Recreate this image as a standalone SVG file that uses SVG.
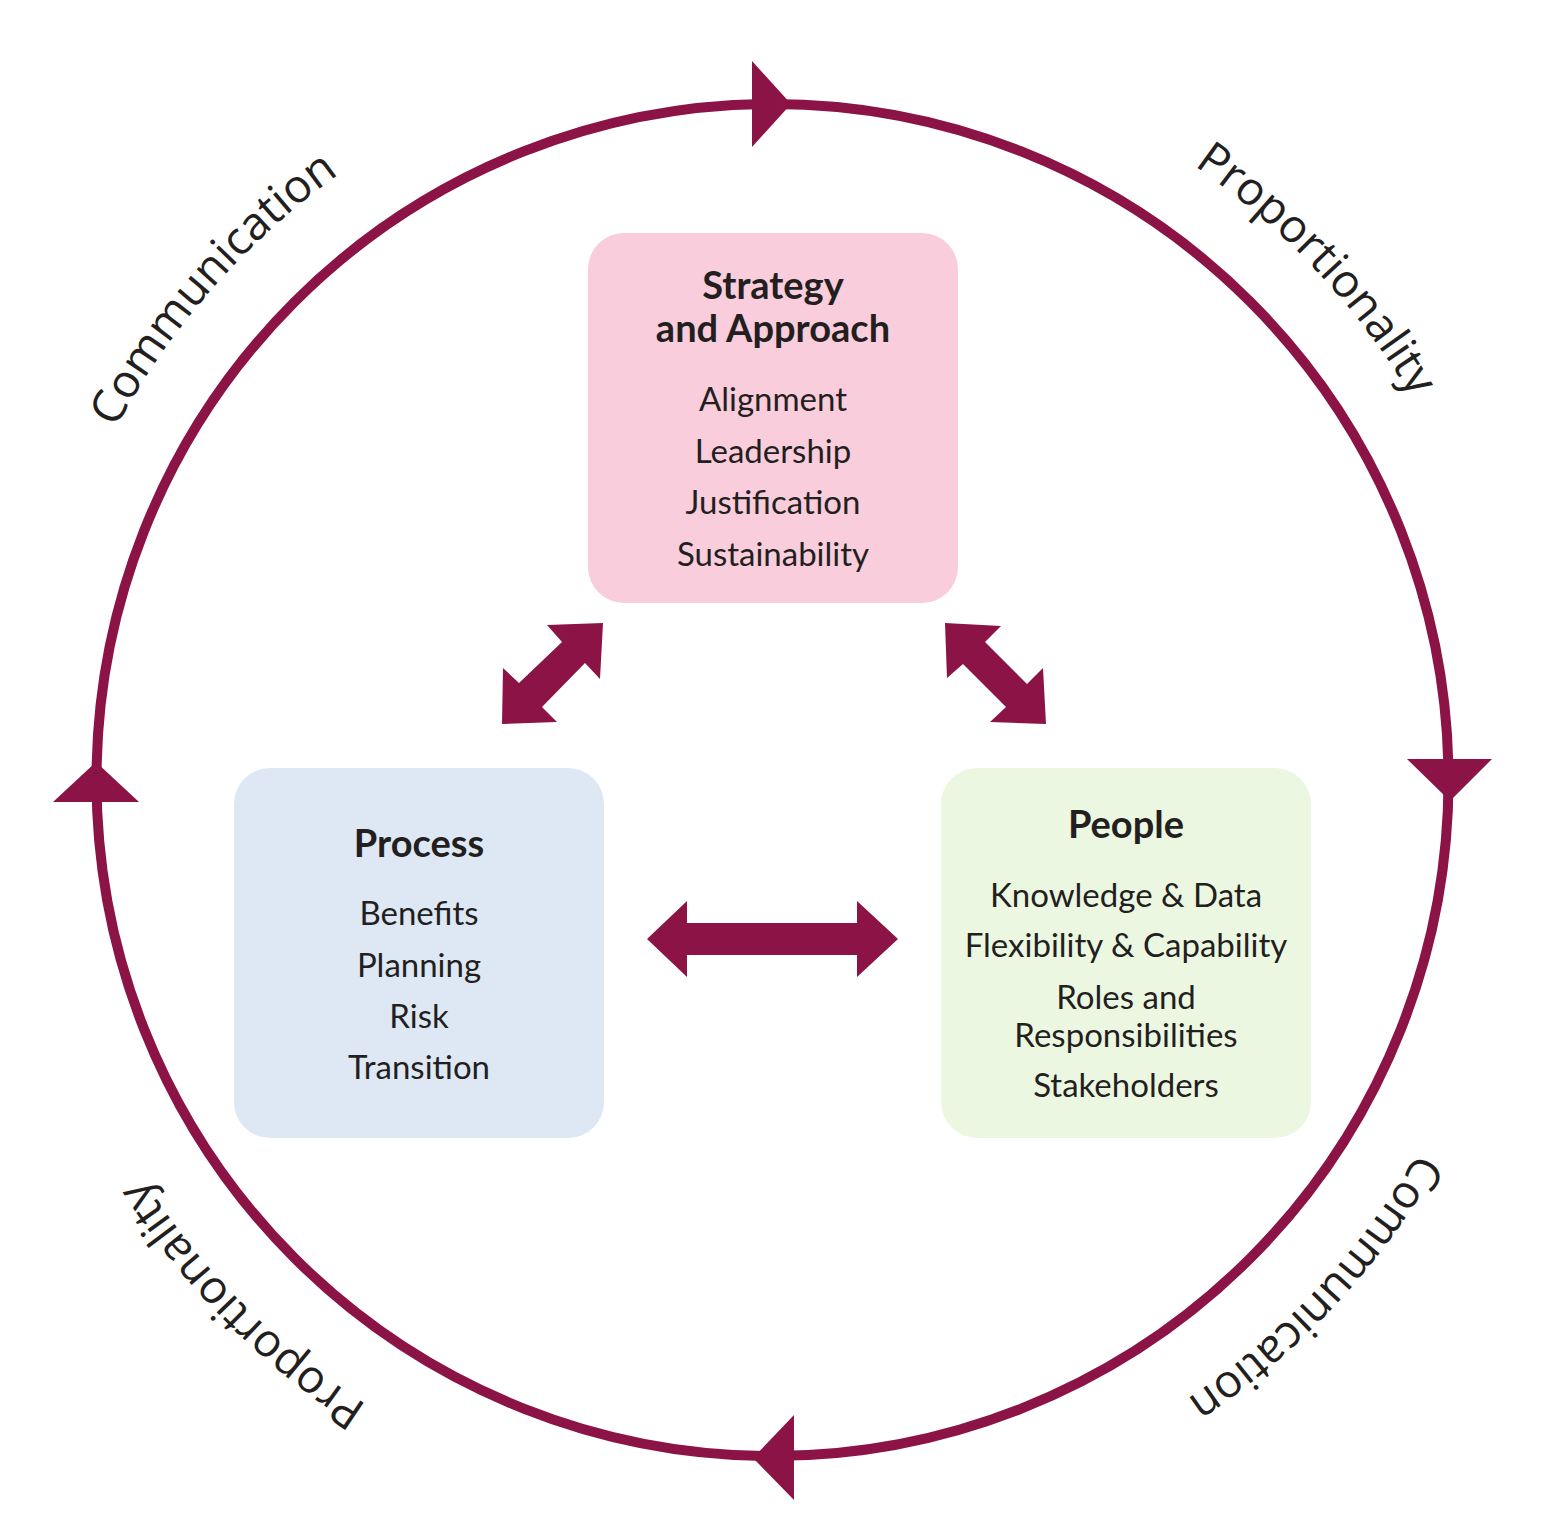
<svg xmlns="http://www.w3.org/2000/svg" xmlns:xlink="http://www.w3.org/1999/xlink" width="1552" height="1522" viewBox="0 0 1552 1522">
<style>
.ring{fill:none;stroke:#8c1346;stroke-width:10}
.mark{fill:#8c1346}
.arc{font-family:"Open Sans","DejaVu Sans",sans-serif;font-size:46px;fill:#231f20}
.title{font-family:Lato,"Open Sans",sans-serif;font-weight:bold;font-size:38px;fill:#231f20;text-anchor:middle}
.item{font-family:Lato,"Open Sans",sans-serif;font-size:33px;fill:#231f20;text-anchor:middle}
</style>
<defs>
<path id="pTL" d="M27.7,763.1 A745,745 0 0 1 659.8,43.6"/>
<path id="pTR" d="M860.7,40.2 A745,745 0 0 1 1516.3,738.4"/>
</defs>
<rect width="1552" height="1522" fill="#ffffff"/>
<g id="connectors">
<circle class="ring" cx="772.5" cy="780" r="676"/>
<polygon class="mark" points="752,61 791,104 752,147"/>
<polygon class="mark" points="1407,759 1492,759 1450,801"/>
<polygon class="mark" points="794,1415 794,1500 753,1458"/>
<polygon class="mark" points="53,802 139,802 96,762"/>
<polygon class="mark" points="603,623 547,625 562,642 519,683 503,668 502,724 557,722 542,707 585,663 600,679"/>
<polygon class="mark" points="945,623 1001,626 985,642 1027,684 1043,668 1046,724 990,722 1006,707 963,664 947,678"/>
<polygon class="mark" points="647,939 687,901 687,923 857,923 857,901 898,939 857,977 857,955 687,955 687,977"/>
</g>
<g id="labels">
<text class="arc"><textPath xlink:href="#pTL" href="#pTL" startOffset="50%" text-anchor="middle">Communication</textPath></text>
<text class="arc"><textPath xlink:href="#pTR" href="#pTR" startOffset="50%" text-anchor="middle">Proportionality</textPath></text>
<text class="arc" transform="rotate(181.8 772.5 780)"><textPath xlink:href="#pTL" href="#pTL" startOffset="50%" text-anchor="middle">Communication</textPath></text>
<text class="arc" transform="rotate(178.5 772.5 780)"><textPath xlink:href="#pTR" href="#pTR" startOffset="50%" text-anchor="middle">Proportionality</textPath></text>
</g>
<g id="strategy">
<rect x="588" y="233" width="370" height="370" rx="36" fill="#f9cddb"/>
<text class="title" x="773" y="299">Strategy</text>
<text class="title" x="773" y="342">and Approach</text>
<text class="item" x="773" y="411">Alignment</text>
<text class="item" x="773" y="463">Leadership</text>
<text class="item" x="773" y="514">Justification</text>
<text class="item" x="773" y="566">Sustainability</text>
</g>
<g id="process">
<rect x="234" y="768" width="370" height="370" rx="36" fill="#dde8f4"/>
<text class="title" x="419" y="857">Process</text>
<text class="item" x="419" y="925">Benefits</text>
<text class="item" x="419" y="977">Planning</text>
<text class="item" x="419" y="1028">Risk</text>
<text class="item" x="419" y="1079">Transition</text>
</g>
<g id="people">
<rect x="941" y="768" width="370" height="370" rx="36" fill="#ecf7e1"/>
<text class="title" x="1126" y="838">People</text>
<text class="item" x="1126" y="907">Knowledge &amp; Data</text>
<text class="item" x="1126" y="957">Flexibility &amp; Capability</text>
<text class="item" x="1126" y="1009">Roles and</text>
<text class="item" x="1126" y="1047">Responsibilities</text>
<text class="item" x="1126" y="1097">Stakeholders</text>
</g>
</svg>
